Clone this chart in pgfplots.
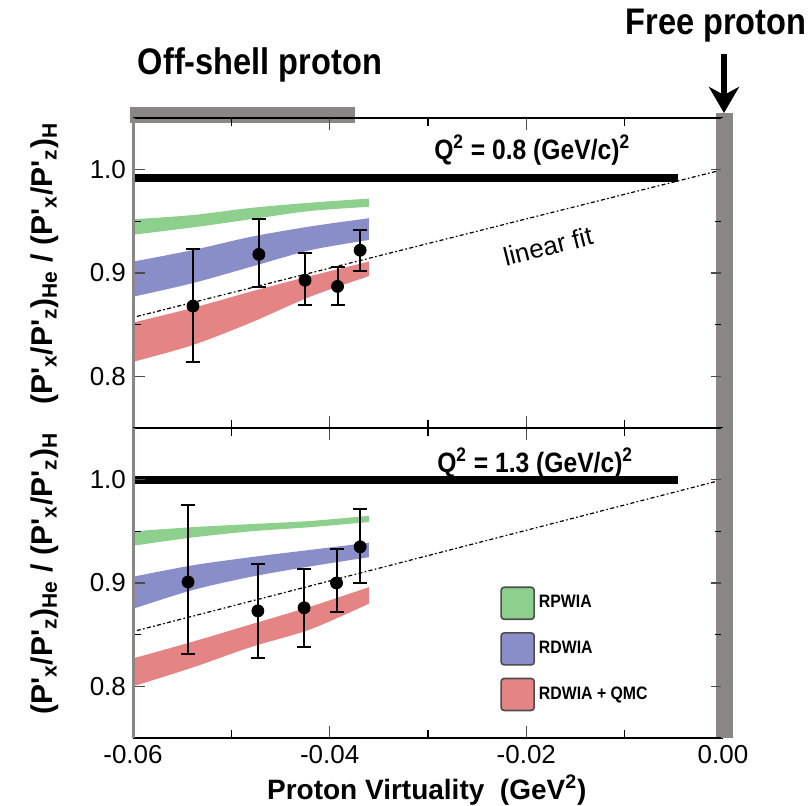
\documentclass[border=0pt]{standalone}
\usepackage{pgfplots}
\pgfplotsset{compat=1.18}
\usepgfplotslibrary{fillbetween}
\usetikzlibrary{arrows.meta}
\usepackage{fontspec}
\setmainfont{Liberation Sans}
\newfontfamily\cond[FakeStretch=0.88]{Liberation Sans}
\definecolor{bandgreen}{HTML}{8DD08D}
\definecolor{bandblue}{HTML}{898EC8}
\definecolor{bandred}{HTML}{E58484}
\definecolor{bargray}{HTML}{8A8686}

\newcommand{\ratiolabel}{(P\textquotesingle\textsubscript{x}/P\textquotesingle\textsubscript{z})\textsubscript{He} / (P\textquotesingle\textsubscript{x}/P\textquotesingle\textsubscript{z})\textsubscript{H}}

\pgfplotsset{
  panel/.style={
    width=295pt, height=155pt, scale only axis,
    xmin=-0.06, xmax=0, ymin=0.75, ymax=1.05,
    xtick={-0.06,-0.04,-0.02,0}, minor xtick={-0.05,-0.03,-0.01},
    ytick={0.8,0.9,1.0}, minor ytick={0.85,0.95},
    scaled ticks=false,
    tick align=inside,
    major tick length=6pt, minor tick length=4pt,
    every major tick/.append style={line width=0.8pt, black!70},
    every minor tick/.append style={line width=0.6pt, black},
    separate axis lines,
    y axis line style={bargray, line width=1.5pt},
    x axis line style={black, line width=0.6pt},
    axis on top, clip=false,
    ticklabel style={font=\fontsize{13}{13}\selectfont},
    /pgf/number format/assume math mode=true,
    yticklabel style={/pgf/number format/.cd, fixed, fixed zerofill, precision=1},
    xticklabel style={/pgf/number format/.cd, fixed, fixed zerofill, precision=2},
    ylabel={\ratiolabel},
    ylabel style={font=\bfseries\fontsize{15}{15}\selectfont,
      at={(axis description cs:-0.15,0.53)}, anchor=center},
  },
  fitline/.style={black, line width=0.6pt, dash pattern=on 0.8pt off 1.2pt on 2pt off 1.2pt},
  pts/.style={only marks, mark=*, mark size=3pt, black,
    error bars/.cd, y dir=both, y explicit,
    error bar style={line width=1pt, black},
    error mark options={rotate=90, mark size=3.5pt, line width=1pt, black}},
}

\begin{document}
\begin{tikzpicture}

% upper panel, Q^2 = 0.8
\begin{axis}[panel, at={(66.5pt,189pt)}, anchor=south west, xticklabels={}]
\addplot[name path=gu, draw=none, smooth, forget plot] coordinates {(-0.060,0.952) (-0.054,0.956) (-0.048,0.963) (-0.042,0.968) (-0.036,0.972)};
\addplot[name path=gl, draw=none, smooth, forget plot] coordinates {(-0.060,0.937) (-0.054,0.944) (-0.048,0.952) (-0.042,0.960) (-0.036,0.964)};
\addplot[bandgreen, forget plot] fill between[of=gu and gl];
\addplot[name path=bu, draw=none, smooth, forget plot] coordinates {(-0.060,0.911) (-0.054,0.922) (-0.048,0.935) (-0.042,0.945) (-0.036,0.953)};
\addplot[name path=bl, draw=none, smooth, forget plot] coordinates {(-0.060,0.877) (-0.054,0.890) (-0.048,0.906) (-0.042,0.922) (-0.036,0.932)};
\addplot[bandblue, forget plot] fill between[of=bu and bl];
\addplot[name path=ru, draw=none, smooth, forget plot] coordinates {(-0.060,0.852) (-0.054,0.866) (-0.048,0.882) (-0.042,0.897) (-0.036,0.911)};
\addplot[name path=rl, draw=none, smooth, forget plot] coordinates {(-0.060,0.814) (-0.054,0.830) (-0.048,0.852) (-0.042,0.877) (-0.036,0.897)};
\addplot[bandred, forget plot] fill between[of=ru and rl];
\addplot[fitline, forget plot] coordinates {(-0.06,0.857) (0,1.0)};
\addplot[black, line width=4pt, forget plot] coordinates {(-0.06,0.992) (-0.0046,0.992)};
\addplot[forget plot, pts] coordinates {
  (-0.0539,0.868) += (0,0.055) -= (0,0.054)
  (-0.0472,0.918) += (0,0.034) -= (0,0.032)
  (-0.0425,0.893) += (0,0.026) -= (0,0.024)
  (-0.0392,0.887) += (0,0.019) -= (0,0.018)
  (-0.0369,0.922) += (0,0.020) -= (0,0.020)};
\addplot[bargray, line width=8.5pt, forget plot] coordinates {(0.0002,0.75) (0.0002,1.055)};
\addplot[bargray, line width=8pt, forget plot] coordinates {(-0.0603,1.053) (-0.0374,1.053)};
\node[font=\cond\bfseries\fontsize{14}{14}\selectfont] at (axis cs:-0.0194,1.019) {Q\textsuperscript{2} = 0.8 (GeV/c)\textsuperscript{2}};
\node[rotate=14, font=\fontsize{13}{13}\selectfont] at (axis cs:-0.0178,0.926) {linear fit};
\end{axis}

% lower panel, Q^2 = 1.3
\begin{axis}[panel, at={(66.5pt,34pt)}, anchor=south west,
  xlabel={Proton Virtuality\ \ (GeV\textsuperscript{2})},
  xlabel style={font=\bfseries\fontsize{14}{14}\selectfont,
    at={(axis description cs:0.498,-0.168)}, anchor=center},
  legend style={at={(0.622,0.49)}, anchor=north west, draw=none, fill=none,
    inner sep=0pt, row sep=6pt, font=\cond\bfseries\fontsize{9}{9}\selectfont,
    cells={anchor=west}},
  legend image code/.code={\draw[#1, rounded corners=1.5pt] (0pt,-8pt) rectangle (16.5pt,8pt);}]
\addlegendimage{fill=bandgreen, draw=black!70, line width=0.8pt}
\addlegendentry{RPWIA}
\addlegendimage{fill=bandblue, draw=black!70, line width=0.8pt}
\addlegendentry{RDWIA}
\addlegendimage{fill=bandred, draw=black!70, line width=0.8pt}
\addlegendentry{RDWIA + QMC}
\addplot[name path=gu2, draw=none, smooth, forget plot] coordinates {(-0.060,0.950) (-0.054,0.954) (-0.048,0.957) (-0.042,0.960) (-0.036,0.965)};
\addplot[name path=gl2, draw=none, smooth, forget plot] coordinates {(-0.060,0.936) (-0.054,0.944) (-0.048,0.950) (-0.042,0.954) (-0.036,0.959)};
\addplot[bandgreen, forget plot] fill between[of=gu2 and gl2];
\addplot[name path=bu2, draw=none, smooth, forget plot] coordinates {(-0.060,0.906) (-0.054,0.917) (-0.048,0.925) (-0.042,0.932) (-0.036,0.939)};
\addplot[name path=bl2, draw=none, smooth, forget plot] coordinates {(-0.060,0.875) (-0.054,0.893) (-0.048,0.906) (-0.042,0.916) (-0.036,0.925)};
\addplot[bandblue, forget plot] fill between[of=bu2 and bl2];
\addplot[name path=ru2, draw=none, smooth, forget plot] coordinates {(-0.060,0.827) (-0.054,0.843) (-0.048,0.860) (-0.042,0.877) (-0.036,0.896)};
\addplot[name path=rl2, draw=none, smooth, forget plot] coordinates {(-0.060,0.800) (-0.054,0.818) (-0.048,0.838) (-0.042,0.855) (-0.036,0.880)};
\addplot[bandred, forget plot] fill between[of=ru2 and rl2];
\addplot[fitline, forget plot] coordinates {(-0.06,0.853) (0,1.0)};
\addplot[black, line width=4pt, forget plot] coordinates {(-0.06,1.0) (-0.0046,1.0)};
\addplot[forget plot, pts] coordinates {
  (-0.0544,0.901) += (0,0.074) -= (0,0.070)
  (-0.0473,0.873) += (0,0.045) -= (0,0.046)
  (-0.0426,0.876) += (0,0.038) -= (0,0.038)
  (-0.0393,0.900) += (0,0.033) -= (0,0.028)
  (-0.0369,0.935) += (0,0.037) -= (0,0.035)};
\addplot[bargray, line width=8.5pt, forget plot] coordinates {(0.0002,0.75) (0.0002,1.06)};
\node[font=\cond\bfseries\fontsize{14}{14}\selectfont] at (axis cs:-0.0191,1.016) {Q\textsuperscript{2} = 1.3 (GeV/c)\textsuperscript{2}};
\end{axis}

\node[font=\cond\bfseries\fontsize{18.5}{18.5}\selectfont] at (130pt,370.5pt) {Off-shell proton};
\node[font=\cond\bfseries\fontsize{18.5}{18.5}\selectfont] at (358pt,390pt) {Free proton};
\draw[line width=3pt, -{Stealth[length=13pt,width=15pt,inset=4pt]}] (362pt,376pt) -- (362pt,346.5pt);

\pgfresetboundingbox
\path[use as bounding box] (0pt,0pt) rectangle (405.5pt,403pt);
\end{tikzpicture}
\end{document}
